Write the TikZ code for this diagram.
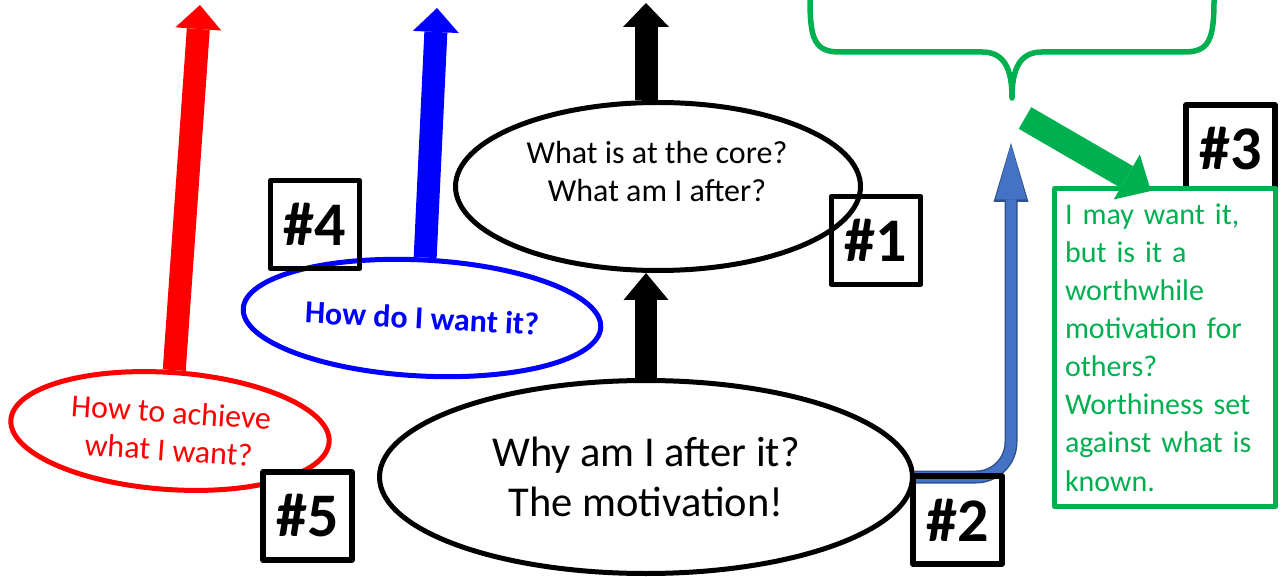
\documentclass[tikz,border=0pt]{standalone}
\usepackage{fontspec}
\setmainfont{Carlito}
\usepackage{tikz}
\usetikzlibrary{arrows.meta,positioning,shapes.geometric}
\definecolor{brightgreen}{HTML}{00B050}
\definecolor{officeblue}{HTML}{4472C4}
\definecolor{blueedge}{HTML}{2F528F}
\tikzset{
  oval/.style={ellipse,draw,line width=5pt,inner sep=0pt},
  numbox/.style={draw,line width=5.5pt,minimum width=89pt,minimum height=88pt,
    inner sep=0pt,font=\fontsize{62}{62}\selectfont\bfseries},
  blockarrow/.style={line width=23pt,-{Triangle[width=46pt,length=24pt,line width=0pt]}},
  every node/.style={font=\fontsize{32}{38}\selectfont}
}

\begin{document}
\begin{tikzpicture}[x=1pt,y=-1pt,line join=round]
  % page frame
  \useasboundingbox (0,0) rectangle (1288,577);

  % free ends of the arrows
  \coordinate (redtip) at (200,5);
  \coordinate (bluetip) at (437,8);
  \coordinate (coretip) at (646,3);
  \coordinate (bendtip) at (1011,143);
  \coordinate (gstart) at (1025,118);
  \coordinate (gtip) at (1151,191);

  % ovals
  \node[oval,minimum width=405pt,minimum height=168pt] (core) at (658,186.5) {};
  \node[align=center] (coretxt) at (657,172) {What is at the core?\\What am I after?};
  \node[oval,minimum width=533pt,minimum height=193pt,align=center,
        font=\fontsize{42.5}{50}\selectfont] (why) at (646,477) {Why am I after it?\\The motivation!};
  \node[oval,draw=blue,text=blue,rotate=-3,minimum width=358pt,minimum height=116pt,
        font=\fontsize{32}{38}\selectfont\bfseries] (how) at (422,318) {How do I want it?};
  \node[oval,draw=red,text=red,rotate=-4,align=center,minimum width=319pt,
        minimum height=117pt] (achieve) at (170,431) {How to achieve\\what I want?};

  % block arrows
  \draw[blockarrow,red] (achieve.north) -- (redtip);
  \draw[blockarrow,blue] (how.north) -- (bluetip);
  \draw[blockarrow] (core.north -| why.north) -- (coretip);
  \draw[line width=22pt,-{Triangle[width=45pt,length=27pt,line width=0pt]}]
    (why.north) -- (why.north |- core.south);

  % bent arrow from the motivation
  \draw[blueedge,line width=13pt,rounded corners=35pt,
        -{Triangle[width=35pt,length=59pt,line width=0pt]}] (why.east) -| (bendtip);
  \draw[officeblue,line width=10pt,rounded corners=35pt,
        -{Triangle[width=31pt,length=55pt,line width=0pt]}] (why.east) -| ([yshift=-1.5pt]bendtip);

  % brace
  \draw[brightgreen,line width=5.5pt]
    (810,-5) -- (810,0) .. controls (810,40) and (815,52) .. (840,52) -- (982,52)
    .. controls (1005,52) and (1012,70) .. (1012,98)
    .. controls (1012,70) and (1019,52) .. (1042,52) -- (1184,52)
    .. controls (1209,52) and (1214,40) .. (1214,0) -- (1214,-5);

  % number boxes
  \node[numbox] (n1) at (876,240.5) {\#1};
  \node[numbox] (n2) at (957.5,520) {\#2};
  \node[numbox] (n3) at (1230.5,149) {\#3};
  \node[numbox] (n4) at (315,224.5) {\#4};
  \node[numbox,fill=white] (n5) at (307.5,516) {\#5};

  % worthiness note
  \node[draw=brightgreen,fill=white,line width=5pt,text=brightgreen,text width=200pt,
        align=left,inner xsep=10.5pt,minimum width=221pt,minimum height=318pt,
        font=\fontsize{30}{38.1}\selectfont] (worth) at (1165,347.5)
        {I may want it,\\but is it a\\worthwhile\\motivation for\\others?\\Worthiness set\\against what is\\known.};
  \draw[brightgreen,line width=25pt,-{Triangle[width=52pt,length=28pt,line width=0pt]}]
    (gstart) -- (gtip);
\end{tikzpicture}
\end{document}
